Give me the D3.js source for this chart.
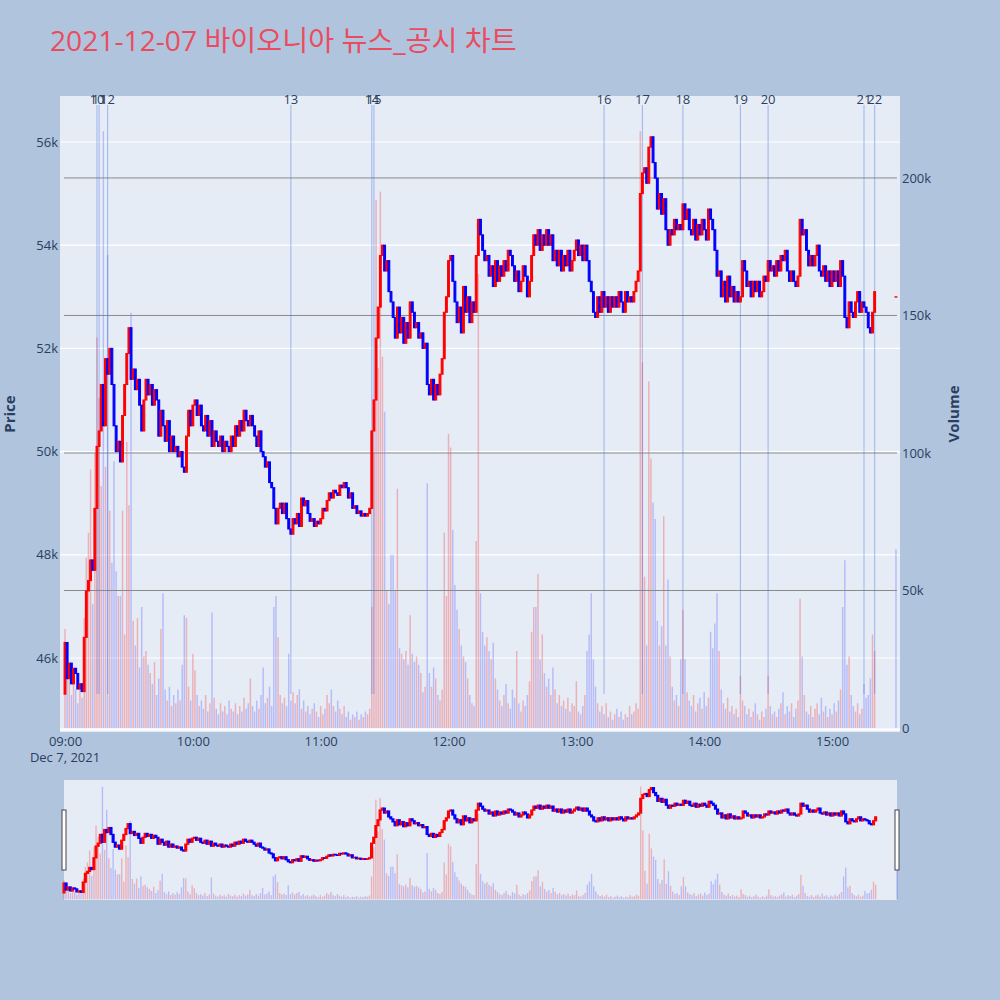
<!DOCTYPE html>
<html><head><meta charset="utf-8">
<script src="https://cdn.jsdelivr.net/npm/d3@7"></script>
<style>body{margin:0;background:#B0C4DE;} svg{display:block;font-family:"Open Sans","Noto Sans CJK KR",sans-serif;}</style>
</head><body>
<svg id="c" width="1000" height="1000"></svg>
<script>
const chartTitle = "2021-12-07 바이오니아 뉴스_공시 차트";
const firstOpen = 45300;
const closes = [
46300,45600,45900,45500,45800,45700,45400,45500,45350,46400,47300,47500,47900,47700,48900,50100,
50400,51300,50500,51800,51500,52000,51300,50500,50000,50200,49800,50700,51300,51900,52400,51400,
51600,51200,51400,50900,50400,51000,51400,51100,51300,50900,51200,51000,50300,50800,50500,50200,
50600,50000,50300,50000,50100,49900,50000,49700,49600,50300,50800,50500,50900,51000,50700,50900,
50500,50400,50700,50300,50600,50100,50400,50200,50100,50300,50000,50200,50100,50000,50300,50100,
50500,50300,50600,50400,50800,50600,50500,50700,50500,50300,50100,50400,50000,49900,49700,49800,
49400,49300,48900,48600,48900,49000,48800,49000,48700,48500,48400,48700,48600,48800,48550,49100,
48950,49050,48800,48650,48700,48550,48650,48600,48700,48900,48850,49050,49200,49100,49250,49200,
49150,49350,49300,49400,49300,49100,49200,48900,48950,48800,48850,48750,48800,48750,48800,48900,
50400,51000,52200,52800,53800,54000,53500,53700,53100,52900,52600,52200,52800,52300,52600,52100,
52500,52200,52900,52700,52400,52500,52200,52300,52000,52100,51300,51100,51400,51000,51300,51100,
51500,51800,52700,53000,53700,53800,53300,52900,52500,52800,52300,53200,52700,53000,52500,52900,
52700,53800,54500,54200,53900,53700,53800,53400,53600,53200,53700,53300,53600,53400,53700,53500,
53900,53800,53600,53300,53500,53100,53300,53600,53400,53000,53300,53800,54200,54000,54300,53900,
54200,54000,54300,54000,54200,53700,53900,53600,53900,53500,53800,53600,53900,53500,53700,53900,
54100,53800,54000,53700,54000,53700,53300,53100,52700,52600,53000,52700,53100,52800,53000,52700,
53000,52800,53000,52800,53100,52900,52700,53100,52900,53000,52900,53100,53300,53500,55000,55400,
55500,55200,55900,56100,55600,55300,54700,55000,54600,54900,54300,54000,54300,54200,54500,54300,
54400,54300,54800,54500,54700,54300,54200,54500,54100,54400,54200,54500,54300,54100,54700,54500,
54300,53900,53400,53500,53000,53300,52900,53400,53000,53200,52900,53100,52900,53000,53700,53500,
53200,53300,53000,53300,53100,53300,53000,53100,53400,53300,53700,53500,53600,53400,53700,53500,
53800,53700,53900,53500,53300,53500,53300,53200,53400,54500,54200,54300,53900,53600,53800,53600,
53800,54000,53500,53400,53600,53300,53500,53200,53500,53300,53500,53200,53700,53400,52600,52400,
52900,52700,52600,52900,53100,52700,52900,52800,52700,52400,52300,52700,53100
];
// volume in thousands of shares, one per minute from 09:00
const volumesK = [
36,24,18,12,20,14,9,15,11,40,62,71,94,45,100,142,
120,88,217,95,172,79,60,97,57,48,48,79,34,104,81,151,
39,30,40,22,44,26,28,23,20,16,24,12,18,36,49,14,
10,15,8,12,9,14,10,23,41,40,15,10,27,21,12,8,
10,7,12,6,9,42,11,7,5,9,6,8,5,10,7,6,
9,5,8,6,11,7,9,18,8,6,10,7,12,22,9,11,
15,8,44,48,33,12,9,11,8,27,10,13,9,12,14,7,
10,6,8,5,7,9,6,4,8,5,7,12,9,14,8,6,
10,7,5,8,4,6,3,5,4,6,3,5,4,6,5,7,
44,100,192,131,195,135,115,50,45,63,63,50,87,29,27,25,
28,23,41,27,24,26,23,20,13,15,89,20,15,22,18,12,
10,14,71,48,107,102,72,52,43,36,30,26,24,18,12,9,
8,68,165,49,35,30,33,28,25,31,18,14,10,8,12,16,
9,7,14,11,28,9,6,10,8,12,17,35,44,44,56,25,
34,20,15,18,12,22,14,9,12,8,10,7,11,6,9,8,
17,6,5,8,12,28,34,49,25,15,9,6,8,5,9,4,
6,3,5,7,4,6,3,5,4,8,5,6,9,7,217,133,
55,30,126,98,82,76,39,30,37,77,30,54,26,15,10,12,
8,25,43,25,13,10,8,12,6,9,11,7,13,8,11,35,
29,38,49,28,14,9,7,11,6,8,5,7,4,19,10,8,
5,7,4,6,9,5,3,6,4,7,19,8,5,6,4,7,
9,13,5,8,6,9,4,7,10,47,26,12,6,5,8,4,
7,9,5,11,6,8,4,7,5,9,6,10,14,44,61,23,
26,12,8,6,9,5,7,16,11,12,18,34,28
];
const auctionTime = "15:30";
const auctionOpen = 53000;
const auctionClose = 53000;
const auctionVolumeK = 65;

const newsLabels = ["10","11","12","13","14","15","16","17","18","19","20","21","22"];
const newsTimes = ["09:15","09:16","09:20","10:46","11:24","11:25","13:13","13:31","13:50","14:17","14:30","15:15","15:20"];

const priceTicks = [46000,48000,50000,52000,54000,56000];
const volumeTicks = [0,50000,100000,150000,200000];
const timeTicks = ["09:00","10:00","11:00","12:00","13:00","14:00","15:00"];
const dateLabel = "Dec 7, 2021";

const toDate = s => { const [h,m] = s.split(":").map(Number); return new Date(2021,11,7,h,m); };

// build rows
const rows = closes.map((c,i) => {
  const o = i === 0 ? firstOpen : closes[i-1];
  return {t: new Date(2021,11,7,9,i), o, c, v: volumesK[i]*1000, prev: o};
});
rows.push({t: toDate(auctionTime), o: auctionOpen, c: auctionClose, v: auctionVolumeK*1000, prev: closes[closes.length-1], up: true});
rows.forEach(r => { if (r.up === undefined) r.up = r.c > r.o; r.vUp = r.c > r.prev; });

const svg = d3.select("#c");
const TXT = "#2a3f5f";
const L = 60, R = 900, T = 96, B = 732;

const x = d3.scaleTime().domain([new Date(2021,11,7,8,57,39), new Date(2021,11,7,15,31,54)]).range([L,R]);
const yP = d3.scaleLinear().domain([44566,56891]).range([B,T]);
const yV = d3.scaleLinear().domain([-1450,229800]).range([B,T]);

// slider scales
const SL = 64, SR = 897, ST = 780, SB = 900;
const xs = d3.scaleTime().domain([new Date(2021,11,7,9,0), new Date(2021,11,7,15,30)]).range([SL,SR]);
const yPs = d3.scaleLinear().domain(yP.domain()).range([SB,ST]);
const yVs = d3.scaleLinear().domain(yV.domain()).range([SB,ST]);

// title
svg.append("text").attr("x",50).attr("y",51).attr("font-size",28.2).attr("fill","#ea4c5f").text(chartTitle);

// plot bg
svg.append("rect").attr("x",L).attr("y",T).attr("width",R-L).attr("height",B-T).attr("fill","#E5ECF6");

// price grid (white)
svg.append("g").selectAll("line").data(priceTicks).join("line")
  .attr("x1",L).attr("x2",R).attr("y1",d=>yP(d)).attr("y2",d=>yP(d))
  .attr("stroke","#fff").attr("stroke-width",1.2);
// volume zero line
svg.append("line").attr("x1",L).attr("x2",R).attr("y1",yV(0)+1.5).attr("y2",yV(0)+1.5).attr("stroke","#fff").attr("stroke-width",2);

function drawVolume(g, xsc, ysc, w) {
  g.selectAll("rect").data(rows).join("rect")
    .attr("x", d => xsc(d.t) - w/2).attr("width", w)
    .attr("y", d => ysc(d.v)).attr("height", d => Math.max(0, ysc(0) - ysc(d.v)))
    .attr("fill", d => d.vUp ? "rgba(255,0,0,0.25)" : "rgba(0,0,255,0.2)");
}
function drawCandles(g, xsc, ysc, w, sw) {
  g.selectAll("rect").data(rows).join("rect")
    .attr("x", d => xsc(d.t) - w/2).attr("width", w)
    .attr("y", d => ysc(Math.max(d.o,d.c)))
    .attr("height", d => Math.max(0.3, Math.abs(ysc(d.o) - ysc(d.c))))
    .attr("fill", d => d.up ? "#ff0000" : "#0000ff")
    .attr("stroke", d => d.up ? "#ff0000" : "#0000ff")
    .attr("stroke-width", sw);
}

// volume bars
drawVolume(svg.append("g"), x, yV, 1.5);

// volume grid (gray)
svg.append("g").selectAll("line").data(volumeTicks.filter(d=>d>0)).join("line")
  .attr("x1",L+4).attr("x2",R-3).attr("y1",d=>yV(d)).attr("y2",d=>yV(d))
  .attr("stroke","#8a8a8a").attr("stroke-width",1);

// news lines
const news = newsLabels.map((l,i) => ({label:l, t: toDate(newsTimes[i])}));
svg.append("g").selectAll("line").data(news).join("line")
  .attr("x1",d=>x(d.t)).attr("x2",d=>x(d.t)).attr("y1",105).attr("y2",694)
  .attr("stroke","rgba(65,105,225,0.4)").attr("stroke-width",1.1);

// candles
drawCandles(svg.append("g"), x, yP, 1.8, 1.1);

// news labels
svg.append("g").selectAll("text").data(news).join("text")
  .attr("x",d=>x(d.t)).attr("y",104).attr("text-anchor","middle")
  .attr("font-size",13).attr("fill",TXT).text(d=>d.label);

// axes
function styleAxis(g){ g.select(".domain").remove(); g.selectAll("text").attr("fill",TXT).attr("font-size",13).attr("font-family",'"Open Sans",sans-serif'); }
svg.append("g").attr("transform",`translate(${L},0)`)
  .call(d3.axisLeft(yP).tickValues(priceTicks).tickSize(0).tickPadding(2).tickFormat(d=>d/1000+"k"))
  .call(styleAxis);
svg.append("g").attr("transform",`translate(${R},0)`)
  .call(d3.axisRight(yV).tickValues(volumeTicks).tickSize(0).tickPadding(2).tickFormat(d=>d===0?"0":d/1000+"k"))
  .call(styleAxis);
svg.append("g").attr("transform",`translate(0,${B})`)
  .call(d3.axisBottom(x).tickValues(timeTicks.map(toDate)).tickSize(0).tickPadding(5).tickFormat(d3.timeFormat("%H:%M")))
  .call(styleAxis);
svg.append("text").attr("x",x(toDate(timeTicks[0]))).attr("y",762).attr("text-anchor","middle")
  .attr("font-size",13).attr("fill",TXT).text(dateLabel);

// axis titles
svg.append("text").attr("transform",`translate(15,${(T+B)/2}) rotate(-90)`).attr("text-anchor","middle")
  .attr("font-size",15).attr("font-weight","bold").attr("fill",TXT).text("Price");
svg.append("text").attr("transform",`translate(959,${(T+B)/2}) rotate(-90)`).attr("text-anchor","middle")
  .attr("font-size",15).attr("font-weight","bold").attr("fill",TXT).text("Volume");

// range slider
svg.append("rect").attr("x",SL).attr("y",ST).attr("width",SR-SL).attr("height",SB-ST).attr("fill","#E5ECF6");
drawVolume(svg.append("g"), xs, yVs, 1.4);
drawCandles(svg.append("g"), xs, yPs, 1.8, 1.3);
[SL-2, SR-2].forEach(hx => {
  svg.append("rect").attr("x",hx).attr("y",810).attr("width",4).attr("height",60)
    .attr("fill","#fff").attr("stroke","#444").attr("stroke-width",1);
});
</script>
</body></html>
